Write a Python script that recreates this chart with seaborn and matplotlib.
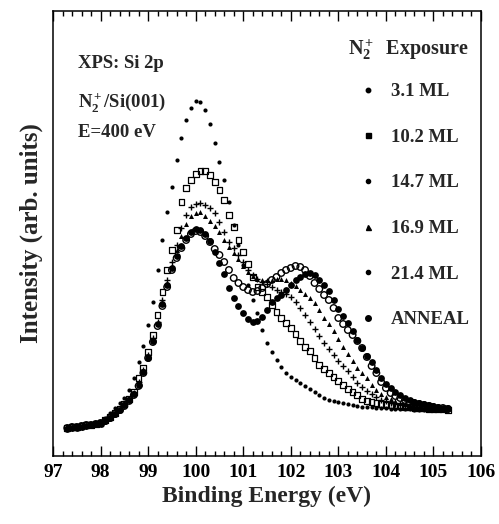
import numpy as np
import pandas as pd
import matplotlib
matplotlib.use("Agg")
import matplotlib.pyplot as plt
import seaborn as sns
from matplotlib.lines import Line2D
from matplotlib.ticker import MultipleLocator

# ---------------- data ----------------
energy = [97.3, 97.4, 97.5, 97.6, 97.7, 97.8, 97.9, 98.0,
          98.1, 98.2, 98.3, 98.4, 98.5, 98.6, 98.7, 98.8, 98.9, 99.0,
          99.1, 99.2, 99.3, 99.4, 99.5, 99.6, 99.7, 99.8, 99.9, 100.0,
          100.1, 100.2, 100.3, 100.4, 100.5, 100.6, 100.7, 100.8, 100.9, 101.0,
          101.1, 101.2, 101.3, 101.4, 101.5, 101.6, 101.7, 101.8, 101.9, 102.0,
          102.1, 102.2, 102.3, 102.4, 102.5, 102.6, 102.7, 102.8, 102.9, 103.0,
          103.1, 103.2, 103.3, 103.4, 103.5, 103.6, 103.7, 103.8, 103.9, 104.0,
          104.1, 104.2, 104.3, 104.4, 104.5, 104.6, 104.7, 104.8, 104.9, 105.0,
          105.1, 105.2, 105.3]

ml_3_1 = [29, 29, 30, 30, 31, 32, 33, 34,
          38, 43, 48, 53, 58, 66, 78, 94, 110, 131,
          154, 186, 216, 244, 269, 296, 318, 336, 348, 355,
          354, 346, 332, 313, 294, 276, 254, 231, 211, 191,
          171, 156, 143, 126, 113, 104, 96, 89, 83, 79,
          76, 73, 70, 67, 64, 61, 58, 56, 55, 54,
          53, 52, 51, 50, 49, 49, 49, 48, 48, 48,
          47, 47, 47, 47, 47, 46, 46, 46, 46, 46,
          46, 46, 46]

ml_10_2 = [28, 29, 29, 30, 31, 31, 32, 33,
           36, 39, 43, 47, 52, 57, 64, 78, 88, 104,
           121, 141, 164, 186, 206, 226, 254, 268, 276, 282,
           285, 285, 281, 274, 266, 256, 241, 229, 216, 204,
           192, 179, 169, 164, 159, 151, 144, 138, 133, 128,
           122, 115, 109, 105, 98, 91, 87, 83, 79, 75,
           71, 67, 64, 61, 57, 55, 54, 53, 52, 51,
           51, 50, 50, 49, 49, 48, 48, 48, 47, 47,
           47, 47, 46]

ml_14_7 = [28, 28, 29, 29, 30, 31, 32, 33,
           36, 39, 42, 46, 51, 56, 63, 74, 86, 101,
           118, 134, 156, 176, 194, 211, 228, 241, 249, 252,
           253, 251, 248, 243, 234, 224, 214, 208, 201, 194,
           186, 181, 177, 174, 172, 169, 166, 164, 162, 159,
           154, 148, 141, 134, 127, 120, 113, 107, 101, 95,
           90, 85, 79, 73, 69, 65, 62, 59, 56, 55,
           53, 52, 51, 50, 50, 49, 49, 48, 48, 48,
           47, 47, 47]

ml_16_9 = [29, 28, 29, 30, 30, 31, 32, 33,
           35, 39, 43, 46, 51, 56, 62, 72, 85, 99,
           116, 132, 153, 173, 190, 206, 220, 232, 240, 243,
           244, 240, 235, 230, 224, 216, 209, 203, 197, 190,
           184, 180, 177, 176, 176, 176, 177, 177, 176, 173,
           170, 166, 162, 158, 153, 146, 138, 132, 125, 117,
           109, 102, 95, 88, 83, 78, 71, 66, 62, 59,
           57, 55, 53, 52, 51, 50, 49, 49, 48, 48,
           48, 47, 47]

ml_21_4 = [28, 29, 29, 30, 31, 31, 32, 33,
           35, 38, 42, 46, 50, 55, 61, 70, 83, 98,
           114, 130, 150, 169, 186, 198, 208, 216, 222, 225,
           224, 220, 214, 207, 201, 194, 186, 178, 173, 169,
           166, 164, 165, 168, 172, 176, 179, 183, 186, 188,
           190, 189, 186, 180, 173, 167, 161, 156, 148, 138,
           132, 126, 121, 115, 108, 99, 90, 83, 74, 68,
           63, 60, 58, 56, 54, 53, 52, 51, 50, 49,
           48, 48, 47]

anneal = [27, 28, 28, 29, 30, 31, 32, 32,
          35, 38, 42, 46, 51, 56, 62, 71, 84, 98,
          115, 132, 152, 171, 188, 200, 210, 218, 224, 227,
          226, 222, 215, 204, 193, 182, 168, 158, 150, 143,
          137, 134, 135, 139, 146, 154, 158, 161, 166, 171,
          176, 179, 182, 183, 181, 176, 171, 165, 156, 147,
          140, 133, 125, 116, 108, 100, 94, 86, 78, 72,
          68, 64, 61, 58, 56, 54, 53, 52, 51, 50,
          49, 48, 48]

exposures = ["3.1 ML", "10.2 ML", "14.7 ML", "16.9 ML", "21.4 ML", "ANNEAL"]
series = [ml_3_1, ml_10_2, ml_14_7, ml_16_9, ml_21_4, anneal]
x_ticks = [97, 98, 99, 100, 101, 102, 103, 104, 105, 106]

df = pd.concat([pd.DataFrame({"energy": energy, "intensity": s, "exposure": name})
                for name, s in zip(exposures, series)], ignore_index=True)

# ---------------- styling ----------------
sns.set_theme(style="white")
plt.rcParams["font.family"] = ["Liberation Serif", "DejaVu Serif"]
plt.rcParams["font.weight"] = "bold"
plt.rcParams["mathtext.fontset"] = "custom"
plt.rcParams["mathtext.rm"] = "Liberation Serif:bold"
plt.rcParams["mathtext.it"] = "Liberation Serif:italic:bold"
plt.rcParams["mathtext.bf"] = "Liberation Serif:bold"
plt.rcParams["mathtext.default"] = "rm"

marker_styles = {
    "3.1 ML":  dict(marker="o", s=9,  color="black", linewidth=0),
    "10.2 ML": dict(marker="s", s=17, facecolor="none", edgecolor="black", linewidth=0.9),
    "14.7 ML": dict(marker="+", s=20, color="black", linewidth=1.0),
    "16.9 ML": dict(marker="^", s=13, color="black", linewidth=0),
    "21.4 ML": dict(marker="o", s=22, facecolor="none", edgecolor="black", linewidth=1.0),
    "ANNEAL":  dict(marker="o", s=24, color="black", linewidth=0),
}

fig = plt.figure(figsize=(4.99, 5.24), dpi=100)
ax = fig.add_axes([53 / 499, 68 / 524, 428 / 499, 445 / 524])

for name in exposures:
    sub = df[df["exposure"] == name]
    sns.scatterplot(data=sub, x="energy", y="intensity", ax=ax, legend=False,
                    **marker_styles[name])

ax.set_xlim(97, 106)
ax.set_ylim(0, 445)
ax.set_xticks(x_ticks)
ax.xaxis.set_minor_locator(MultipleLocator(0.2))
ax.set_yticks([])
ax.tick_params(axis="x", which="both", direction="in", top=True, bottom=True,
               labeltop=False, colors="black", labelsize=14, pad=6, width=1.0)
ax.tick_params(axis="x", which="major", length=7)
ax.tick_params(axis="x", which="minor", length=3.5)
for lab in ax.get_xticklabels():
    lab.set_fontweight("bold")
for sp in ax.spines.values():
    sp.set_visible(True)
    sp.set_color("black")
    sp.set_linewidth(1.1)

ax.set_xlabel("Binding Energy (eV)", fontsize=17, fontweight="bold", labelpad=3)
ax.set_ylabel("Intensity (arb. units)", fontsize=18, fontweight="bold", labelpad=7)

# annotations
ax.text(0.058, 0.872, "XPS: Si 2p", transform=ax.transAxes, fontsize=13.5,
        fontweight="bold", va="baseline", ha="left")
ax.text(0.058, 0.784, r"N$_2^+$/Si(001)", transform=ax.transAxes, fontsize=13.5,
        fontweight="bold", va="baseline", ha="left")
ax.text(0.058, 0.717, "E=400 eV", transform=ax.transAxes, fontsize=13.5,
        fontweight="bold", va="baseline", ha="left")
ax.text(0.689, 0.901, r"N$_2^+$  Exposure", transform=ax.transAxes, fontsize=14.5,
        fontweight="bold", va="baseline", ha="left")

# legend (markers as drawn in the reference key)
leg_markers = [("o", 3.2), ("s", 3.6), ("o", 3.0), ("^", 3.6), ("o", 3.0), ("o", 4.0)]
handles = [Line2D([], [], linestyle="none", marker=m, markersize=ms, color="black")
           for m, ms in leg_markers]
leg = ax.legend(handles, exposures, loc="upper left", bbox_to_anchor=(0.715, 0.838),
                frameon=False, fontsize=13.5, labelspacing=1.52, handlelength=1.0,
                handletextpad=0.7, borderpad=0, borderaxespad=0)
for t in leg.get_texts():
    t.set_fontweight("bold")

fig.savefig("out.png", dpi=100)
